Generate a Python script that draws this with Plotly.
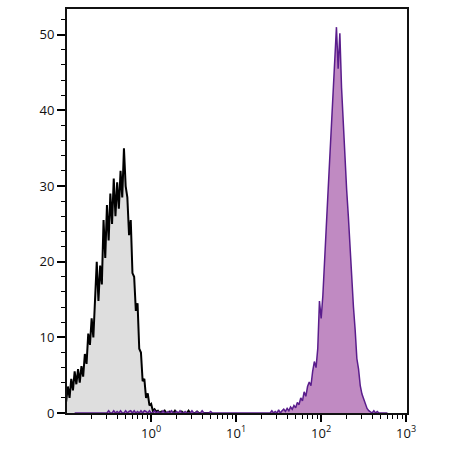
import numpy as np
import plotly.graph_objects as go

# Bin centers (log10 of fluorescence), step 0.02 decades
black_start, step = -1.00, 0.02
black_counts = [1.5, 3.5, 2.0, 4.5, 3.0, 5.5, 3.8, 5.8, 4.0, 6.2,
                4.8, 7.8, 6.5, 10.5, 9.0, 12.5, 10.0, 14.5, 20.0, 14.8,
                19.5, 17.0, 25.5, 20.5, 27.5, 22.8, 29.0, 25.0, 31.0, 26.0,
                30.5, 27.0, 32.0, 28.5, 35.0, 30.0, 28.5, 23.5, 25.5, 18.5,
                18.0, 13.5, 14.5, 8.5, 8.0, 4.2, 4.5, 2.0, 2.6, 1.0,
                1.2, 0.3, 0.5, 0.2, 0.3, 0.0, 0.2, 0.0, 0.3, 0.0,
                0.0, 0.2, 0.0, 0.0, 0.3, 0.0, 0.0, 0.0, 0.2, 0.0,
                0.0, 0.0, 0.3, 0.0, 0.0, 0.0, 0.0, 0.2, 0.0, 0.0,
                0.0, 0.0, 0.0, 0.0, 0.0, 0.0]

purple_start = -0.90
purple_counts = [0.0, 0.0, 0.0, 0.0, 0.0, 0.0, 0.0, 0.0, 0.0, 0.0,
                 0.0, 0.0, 0.0, 0.0, 0.0, 0.0, 0.0, 0.0, 0.0, 0.0,
                 0.3, 0.0, 0.0, 0.3, 0.0, 0.2, 0.0, 0.3, 0.0, 0.0,
                 0.3, 0.0, 0.2, 0.3, 0.0, 0.3, 0.0, 0.2, 0.0, 0.3,
                 0.0, 0.3, 0.2, 0.0, 0.3, 0.0, 0.0, 0.3, 0.0, 0.2,
                 0.0, 0.0, 0.3, 0.0, 0.0, 0.2, 0.0, 0.3, 0.0, 0.0,
                 0.2, 0.0, 0.3, 0.0, 0.0, 0.2, 0.0, 0.0, 0.0, 0.3,
                 0.0, 0.0, 0.2, 0.0, 0.0, 0.3, 0.0, 0.0, 0.0, 0.0,
                 0.2, 0.0, 0.0, 0.0, 0.0, 0.0, 0.0, 0.0, 0.0, 0.0,
                 0.0, 0.0, 0.0, 0.0, 0.0, 0.0, 0.0, 0.0, 0.0, 0.0,
                 0.0, 0.0, 0.0, 0.0, 0.0, 0.0, 0.0, 0.0, 0.0, 0.0,
                 0.0, 0.0, 0.0, 0.0, 0.0,
                 0.0, 0.3, 0.0, 0.2, 0.0, 0.4, 0.0, 0.3, 0.5, 0.2,
                 0.6, 0.3, 0.8, 0.5, 1.0, 0.7, 1.4, 1.1, 2.0, 1.6,
                 2.8, 2.2, 3.5, 4.1, 3.6, 5.5, 6.8, 6.0, 8.5, 14.8,
                 12.5, 15.5, 21.0, 24.5, 29.0, 33.5, 38.0, 42.5, 47.0, 51.0,
                 45.5, 50.2, 43.0, 38.5, 33.0, 29.5, 26.0, 21.5, 17.0, 14.0,
                 11.0, 7.2, 5.8, 3.6, 2.5, 1.8, 1.0, 0.6, 0.3, 0.1,
                 0.0, 0.3, 0.0, 0.2, 0.0, 0.0, 0.0, 0.0, 0.0, 0.0]

y_tickvals = [0, 10, 20, 30, 40, 50]
x_tickvals = [1, 10, 100, 1000]
x_ticktext = ["10<sup>0</sup>", "10<sup>1</sup>", "10<sup>2</sup>", "10<sup>3</sup>"]

bx = 10 ** (black_start + step * np.arange(len(black_counts)))
px = 10 ** (purple_start + step * np.arange(len(purple_counts)))

fig = go.Figure()
fig.add_trace(go.Scatter(x=bx, y=black_counts, mode="lines", fill="tozeroy",
                         fillcolor="#dedede", line=dict(color="#000000", width=2),
                         showlegend=False, hoverinfo="skip"))
fig.add_trace(go.Scatter(x=px, y=purple_counts, mode="lines", fill="tozeroy",
                         fillcolor="#c08ac2", line=dict(color="#5a1d8c", width=1.5),
                         showlegend=False, hoverinfo="skip"))

fig.update_layout(
    width=450, height=450,
    margin=dict(l=67, r=43, t=7, b=37),
    paper_bgcolor="white", plot_bgcolor="white",
    font=dict(family="Open Sans, Noto Sans, sans-serif", size=13, color="#111"),
)
fig.update_xaxes(type="log", range=[-0.99, 3.01],
                 tickvals=x_tickvals, ticktext=x_ticktext,
                 ticks="outside", ticklen=7, tickwidth=1.5, tickcolor="#000",
                 minor=dict(ticks="outside", ticklen=4, tickwidth=1.2, tickcolor="#000", dtick="D1", showgrid=False),
                 showline=True, linecolor="#111", linewidth=2, mirror=True,
                 showgrid=False, zeroline=False)
fig.update_yaxes(range=[0, 53.4], tickvals=y_tickvals,
                 ticks="outside", ticklen=8, tickwidth=1.5, tickcolor="#000",
                 minor=dict(ticks="outside", ticklen=4, tickwidth=1.2, tickcolor="#000", dtick=2, showgrid=False),
                 showline=True, linecolor="#111", linewidth=2, mirror=True,
                 showgrid=False, zeroline=False)

fig.write_html("out.html")
